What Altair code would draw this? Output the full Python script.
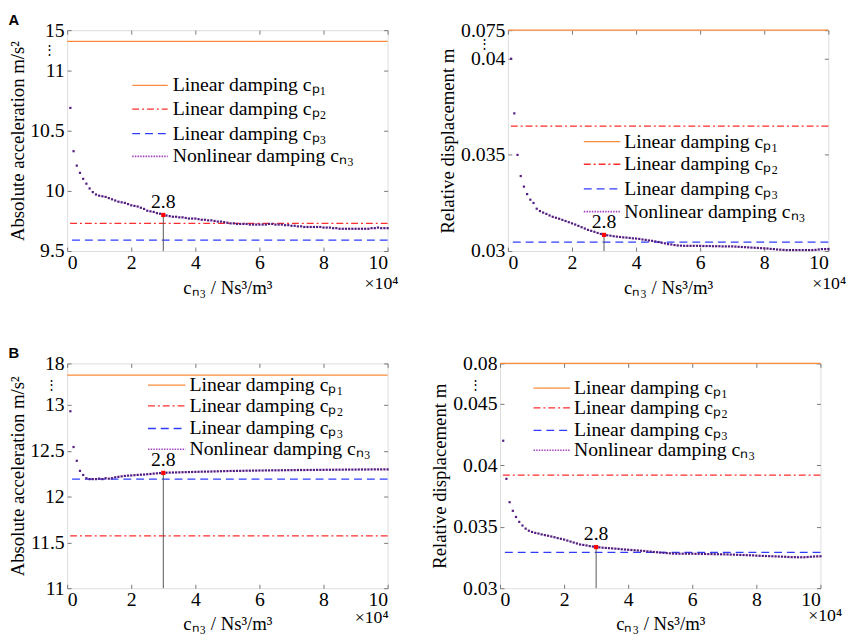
import altair as alt
import pandas as pd

FONT = "Liberation Serif"

# x positions of the nonlinear-damping samples (units of 10^4 Ns^3/m^3)
x_vals = [0.1, 0.2, 0.3, 0.4, 0.5, 0.6, 0.7, 0.8, 0.9, 1.0,
          1.1, 1.2, 1.3, 1.4, 1.5, 1.6, 1.7, 1.8, 1.9, 2.0,
          2.1, 2.2, 2.3, 2.4, 2.5, 2.6, 2.7, 2.8, 2.9, 3.0,
          3.1, 3.2, 3.3, 3.4, 3.5, 3.6, 3.7, 3.8, 3.9, 4.0,
          4.1, 4.2, 4.3, 4.4, 4.5, 4.6, 4.7, 4.8, 4.9, 5.0,
          5.1, 5.2, 5.3, 5.4, 5.5, 5.6, 5.7, 5.8, 5.9, 6.0,
          6.1, 6.2, 6.3, 6.4, 6.5, 6.6, 6.7, 6.8, 6.9, 7.0,
          7.1, 7.2, 7.3, 7.4, 7.5, 7.6, 7.7, 7.8, 7.9, 8.0,
          8.1, 8.2, 8.3, 8.4, 8.5, 8.6, 8.7, 8.8, 8.9, 9.0,
          9.1, 9.2, 9.3, 9.4, 9.5, 9.6, 9.7, 9.8, 9.9, 10.0]

# Panel A, absolute acceleration (m/s^2)
a_acc = [10.69, 10.33, 10.21, 10.15, 10.10, 10.06, 10.02, 9.99, 9.97, 9.96,
         9.955, 9.95, 9.94, 9.93, 9.92, 9.91, 9.905, 9.90, 9.89, 9.88,
         9.875, 9.87, 9.86, 9.85, 9.835, 9.83, 9.825, 9.815, 9.81, 9.80,
         9.795, 9.79, 9.785, 9.785, 9.78, 9.78, 9.775, 9.77, 9.77, 9.77,
         9.765, 9.76, 9.76, 9.755, 9.755, 9.75, 9.745, 9.745, 9.74, 9.735,
         9.73, 9.73, 9.725, 9.725, 9.725, 9.725, 9.72, 9.72, 9.72, 9.72,
         9.72, 9.72, 9.725, 9.725, 9.72, 9.72, 9.72, 9.715, 9.715, 9.71,
         9.71, 9.705, 9.705, 9.70, 9.70, 9.70, 9.70, 9.70, 9.70, 9.695,
         9.695, 9.695, 9.69, 9.69, 9.685, 9.685, 9.685, 9.685, 9.685, 9.685,
         9.685, 9.685, 9.685, 9.685, 9.69, 9.69, 9.695, 9.69, 9.69, 9.69]
a_acc_lin = [13.9, 9.73, 9.59]

# Panel A, relative displacement (m)
a_dis = [0.0400, 0.03716, 0.0350, 0.0339, 0.03335, 0.03296, 0.03267, 0.0325, 0.0322, 0.03208,
         0.0320, 0.03193, 0.03185, 0.03178, 0.03173, 0.03168, 0.03162, 0.03156, 0.0315, 0.03144,
         0.03138, 0.03131, 0.03124, 0.03117, 0.0311, 0.03105, 0.0310, 0.03094, 0.03089, 0.03084,
         0.03082, 0.0308, 0.03077, 0.03075, 0.03073, 0.03071, 0.0307, 0.03068, 0.03066, 0.03065,
         0.03063, 0.0306, 0.03058, 0.03055, 0.03053, 0.0305, 0.03047, 0.03043, 0.0304, 0.03036,
         0.03034, 0.03031, 0.03029, 0.03028, 0.03027, 0.03027, 0.03027, 0.03027, 0.03027, 0.03027,
         0.03026, 0.03026, 0.03026, 0.03025, 0.03025, 0.03025, 0.03024, 0.03024, 0.03024, 0.03024,
         0.03023, 0.03022, 0.03021, 0.0302, 0.03019, 0.03018, 0.03017, 0.03016, 0.03015, 0.03014,
         0.03013, 0.03011, 0.0301, 0.03008, 0.03007, 0.03006, 0.03005, 0.03005, 0.03005, 0.03005,
         0.03005, 0.03005, 0.03005, 0.03005, 0.03005, 0.03006, 0.03008, 0.0301, 0.0301, 0.0301]
a_dis_lin = [0.075, 0.0365, 0.03046]

# Panel B, absolute acceleration (m/s^2)
b_acc = [12.93, 12.54, 12.39, 12.28, 12.235, 12.20, 12.19, 12.19, 12.19, 12.195,
         12.19, 12.20, 12.195, 12.20, 12.21, 12.215, 12.22, 12.225, 12.228, 12.23,
         12.233, 12.236, 12.238, 12.24, 12.243, 12.246, 12.25, 12.253, 12.256, 12.258,
         12.26, 12.261, 12.262, 12.263, 12.264, 12.265, 12.266, 12.267, 12.268, 12.269,
         12.27, 12.271, 12.272, 12.272, 12.273, 12.274, 12.275, 12.276, 12.277, 12.278,
         12.279, 12.279, 12.28, 12.28, 12.281, 12.282, 12.282, 12.283, 12.283, 12.284,
         12.284, 12.285, 12.285, 12.286, 12.286, 12.286, 12.287, 12.287, 12.288, 12.288,
         12.288, 12.289, 12.289, 12.289, 12.29, 12.29, 12.29, 12.291, 12.291, 12.291,
         12.292, 12.292, 12.292, 12.293, 12.293, 12.293, 12.294, 12.294, 12.294, 12.294,
         12.295, 12.295, 12.295, 12.295, 12.296, 12.296, 12.296, 12.296, 12.296, 12.296]
b_acc_lin = [16.6, 11.57, 12.19]

# Panel B, relative displacement (m)
b_dis = [0.0420, 0.0389, 0.0370, 0.0363, 0.0358, 0.0354, 0.0351, 0.03485, 0.03468, 0.03458,
         0.0345, 0.03445, 0.03438, 0.03432, 0.03427, 0.03421, 0.03415, 0.03408, 0.03402, 0.03396,
         0.03388, 0.0338, 0.03372, 0.03364, 0.03356, 0.03352, 0.03348, 0.03343, 0.03339, 0.03335,
         0.03333, 0.0333, 0.03328, 0.03326, 0.03324, 0.03322, 0.0332, 0.03317, 0.03315, 0.03313,
         0.03311, 0.03309, 0.03307, 0.03305, 0.03303, 0.033, 0.03298, 0.03295, 0.03293, 0.0329,
         0.03288, 0.03286, 0.03284, 0.03282, 0.03281, 0.03281, 0.03281, 0.03281, 0.03281, 0.03281,
         0.0328, 0.0328, 0.03279, 0.03279, 0.03278, 0.03278, 0.03277, 0.03277, 0.03276, 0.03276,
         0.03275, 0.03274, 0.03273, 0.03272, 0.03271, 0.0327, 0.03269, 0.03268, 0.03267, 0.03265,
         0.03264, 0.03263, 0.03262, 0.03261, 0.0326, 0.03259, 0.03258, 0.03257, 0.03256, 0.03254,
         0.03253, 0.03253, 0.03252, 0.03252, 0.03252, 0.03254, 0.03256, 0.03258, 0.03259, 0.0326]
b_dis_lin = [0.08, 0.03921, 0.03292]

x_ticks = [0, 2, 4, 6, 8, 10]
marked_x = 3.0
marked_label = "2.8"

series_names = ["Linear damping cₚ₁", "Linear damping cₚ₂", "Linear damping cₚ₃", "Nonlinear damping cₙ₃"]
series_colors = ["#fa8a3c", "#ff2e2e", "#2f3cff", "#a544c0"]
series_dash = [[1, 0], [7, 3, 2, 3], [8, 5], [1.5, 1.2]]
dot_color = "#551d82"

W = 325


def panel(ys, lin, ydom, yrng, h, yticks, ell, ell_dx, ytitle, leg, xlab_dx, xlab_dy, title_pad, xtitle_pad):
    df = pd.DataFrame({"x": x_vals, "y": ys})
    lines = pd.DataFrame({"series": series_names[:3], "y": lin})
    idx = x_vals.index(marked_x)
    mark_df = pd.DataFrame({"x": [marked_x], "y": [ys[idx]], "y0": [ydom[0]], "t": [marked_label]})
    brk_df = pd.DataFrame({"y": [ell], "t": ["⋮"]})
    one = pd.DataFrame({"a": [0]})

    xs = alt.Scale(domain=[0, 10], nice=False, zero=False)
    ysc = alt.Scale(domain=ydom, range=yrng, nice=False, zero=False)

    x_axis = alt.Axis(values=x_ticks, offset=-4, tickSize=4, domain=False, grid=False,
                      labelFont=FONT, labelFontSize=20, labelColor="black", labelPadding=2,
                      labelOverlap=False,
                      tickColor="#777777", tickWidth=1,
                      title="cₙ₃ / Ns³/m³", titleFont=FONT, titleFontSize=19,
                      titleFontWeight="normal", titleColor="black", titlePadding=xtitle_pad)
    y_axis = alt.Axis(values=yticks, labelExpr="format(datum.value, '~g')", offset=-4, tickSize=4,
                      domain=False, grid=False,
                      labelFont=FONT, labelColor="black", labelPadding=3, labelFontSize=20,
                      labelOverlap=False,
                      tickColor="#777777", tickWidth=1,
                      title=ytitle, titleFont=FONT, titleFontSize=19, titleFontWeight="normal",
                      titleColor="black", titlePadding=title_pad)
    x_top = alt.Axis(orient="top", values=x_ticks, offset=-4, tickSize=4, domain=False, grid=False,
                     labels=False, title=None, tickColor="#777777", tickWidth=1)
    y_right = alt.Axis(orient="right", values=yticks, offset=-4, tickSize=4, domain=False, grid=False,
                       labels=False, title=None, tickColor="#777777", tickWidth=1)

    rules = alt.Chart(lines).mark_rule(strokeWidth=1.3).encode(
        y=alt.Y("y:Q", scale=ysc, axis=None),
        color=alt.Color("series:N", scale=alt.Scale(domain=series_names[:3], range=series_colors[:3]), legend=None),
        strokeDash=alt.StrokeDash("series:N", scale=alt.Scale(domain=series_names[:3], range=series_dash[:3]), legend=None),
    )
    pts = alt.Chart(df).mark_square(size=5, color=dot_color, opacity=1).encode(
        x=alt.X("x:Q", scale=xs, axis=x_axis),
        y=alt.Y("y:Q", scale=ysc, axis=y_axis),
    )
    vline = alt.Chart(mark_df).mark_rule(color="#555555", strokeWidth=1).encode(
        x=alt.X("x:Q", scale=xs, axis=None),
        y=alt.Y("y:Q", scale=ysc, axis=None),
        y2="y0:Q",
    )
    rpt = alt.Chart(mark_df).mark_square(size=18, color="#ff0000", opacity=1).encode(
        x=alt.X("x:Q", scale=xs, axis=None),
        y=alt.Y("y:Q", scale=ysc, axis=None),
    )
    rtxt = alt.Chart(mark_df).mark_text(font=FONT, fontSize=20, baseline="bottom", dy=-3, color="black").encode(
        x=alt.X("x:Q", scale=xs, axis=None),
        y=alt.Y("y:Q", scale=ysc, axis=None),
        text="t:N",
    )
    brk = alt.Chart(brk_df).mark_text(fontSize=13, baseline="middle", align="center", color="black").encode(
        x=alt.value(ell_dx),
        y=alt.Y("y:Q", scale=ysc, axis=None),
        text="t:N",
    )
    ticks_layer = alt.Chart(df).mark_point(opacity=0).encode(
        x=alt.X("x:Q", scale=xs, axis=x_top),
        y=alt.Y("y:Q", scale=ysc, axis=y_right),
    )
    x0, x1, tx, rows = leg
    leg_layers = []
    for i in range(4):
        leg_layers.append(
            alt.Chart(one).mark_rule(color=series_colors[i], strokeDash=series_dash[i],
                                     strokeWidth=1.6 if i == 3 else 1.3).encode(
                x=alt.value(x0), x2=alt.value(x1), y=alt.value(rows[i]))
        )
        leg_layers.append(
            alt.Chart(one).mark_text(text=series_names[i], font=FONT, fontSize=20, align="left",
                                     baseline="middle", color="black").encode(
                x=alt.value(tx), y=alt.value(rows[i]))
        )
    exp_txt = alt.Chart(one).mark_text(text="×10⁴", font=FONT, fontSize=18, align="right",
                                       baseline="middle", color="black").encode(
        x=alt.value(W + xlab_dx), y=alt.value(h + xlab_dy))

    return alt.layer(rules, pts, vline, rpt, rtxt, brk, *leg_layers, exp_txt, ticks_layer).resolve_axis(
        x="independent", y="independent").properties(width=W, height=h)


pA1 = panel(a_acc, a_acc_lin, [9.5, 11, 15], [224, 41, 0], 224, [9.5, 10, 10.5, 11, 15], 13.0, -18,
            "Absolute acceleration m/s²", (66, 102, 107, [56, 80, 105, 128]), 11, 34, 2, 6)
pA2 = panel(a_dis, a_dis_lin, [0.03, 0.04, 0.075], [224, 29, 0], 224, [0.03, 0.035, 0.04, 0.075], 0.058, -24,
            "Relative displacement m", (77, 114, 118, [113, 136, 161, 184]), 18, 34, 3, 6)
pB1 = panel(b_acc, b_acc_lin, [11, 13, 18], [228, 42, 0], 228, [11, 11.5, 12, 12.5, 13, 18], 15.4, -16,
            "Absolute acceleration m/s²", (82, 120, 124, [22, 43, 66, 87]), 1, 30, 2, 5)
pB2 = panel(b_dis, b_dis_lin, [0.03, 0.045, 0.08], [228, 41, 0], 228, [0.03, 0.035, 0.04, 0.045, 0.08], 0.061, -25,
            "Relative displacement m", (34, 71, 75, [25, 45, 68, 88]), 22, 28, 3, 5)


def row_title(t):
    return alt.TitleParams(t, anchor="start", font="Liberation Sans", fontSize=15, fontWeight="bold",
                           color="black", offset=-8)


rowA = alt.hconcat(pA1, pA2, spacing=39).properties(title=row_title("A"))
rowB = alt.hconcat(pB1, pB2, spacing=39).properties(title=row_title("B"))

chart = alt.vconcat(rowA, rowB, spacing=48).properties(
    padding={"left": 0, "top": 0, "right": 5, "bottom": 0}
).configure_view(stroke="#808080", strokeWidth=1.2).configure(background="white")

chart.save("out.html", embed_options={"renderer": "svg", "actions": False})
